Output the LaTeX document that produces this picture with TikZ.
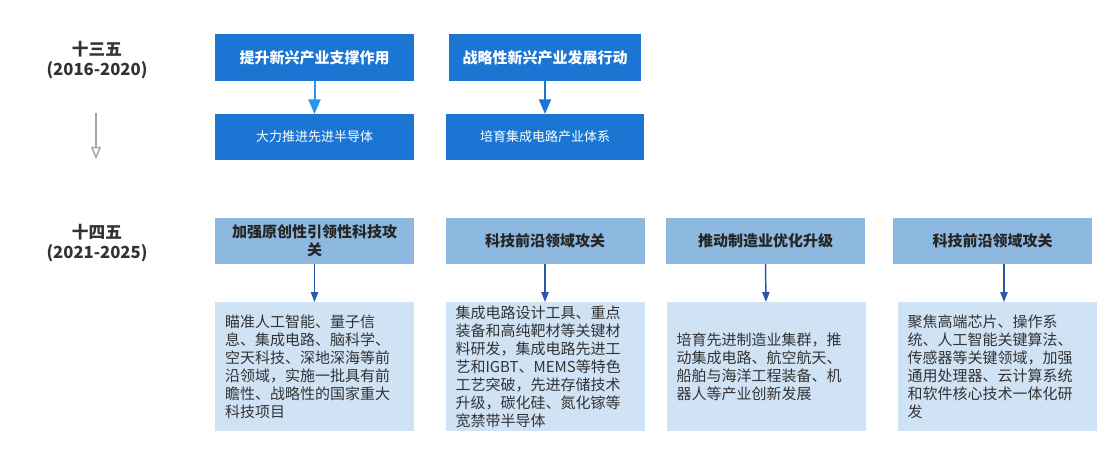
\documentclass[tikz,border=0pt]{standalone}
\usepackage{fontspec}
\setmainfont{Noto Sans CJK SC}
\usetikzlibrary{arrows.meta}

\definecolor{topblue}{HTML}{1A76D2}
\definecolor{arrlight}{HTML}{2196F3}
\definecolor{hdblue}{HTML}{8DB8E0}
\definecolor{bdblue}{HTML}{CFE3F5}
\definecolor{arrdark}{HTML}{2B57A8}
\definecolor{txtgray}{HTML}{333333}

\begin{document}
\begin{tikzpicture}[x=0.75pt, y=-0.75pt]
\tikzset{ >=Triangle, inner sep=0pt, outer sep=0pt,
  topbox/.style={fill=topblue, text=white, minimum height=35.25pt, align=center},
  hdbox/.style={fill=hdblue, text=black!85, minimum width=149.25pt, minimum height=34.5pt,
    align=center, font=\fontsize{11.25}{13.3}\selectfont\bfseries},
  bdbox/.style={fill=bdblue, text=txtgray, minimum width=149.25pt, minimum height=96.75pt,
    text width=134.25pt, align=left, font=\fontsize{11.25}{13.5}\selectfont},
  period/.style={text=txtgray, align=center, font=\fontsize{12.5}{15.5}\selectfont\bfseries},
}

\useasboundingbox (0,0) rectangle (1120,456);

%\draw [lightgray, dashed](0,0) grid [step=50pt] (1120,456);

% 十三五
\node [period] (p13) at (97,60) {十三五\\(2016-2020)};
\node [period] (p14) at (97,243) {十四五\\(2021-2025)};

\coordinate (g1) at (96,113);
\coordinate (g2) at (96,159);
\draw [-{Triangle[open, length=9pt, width=7.5pt]}, gray!70, line width=1.1pt] (g1) -- (g2);

\node [topbox, minimum width=149.25pt, font=\fontsize{11.25}{13}\selectfont\bfseries] (ta) at (314.5,57.5) {提升新兴产业支撑作用};
\node [topbox, minimum width=144pt,    font=\fontsize{11.25}{13}\selectfont\bfseries] (tb) at (545,57.5) {战略性新兴产业发展行动};
\node [topbox, minimum width=149.25pt, minimum height=34.5pt, font=\fontsize{9.75}{12}\selectfont] (ua) at (314.5,137) {大力推进先进半导体};
\node [topbox, minimum width=148.5pt,  minimum height=34.5pt, font=\fontsize{9.75}{12}\selectfont] (ub) at (545,137) {培育集成电路产业体系};

\draw [->, arrlight, line width=1.5pt, >={Triangle[length=11pt, width=9pt]}] (ta.south) -- (ua.north);
\draw [->, topblue,  line width=1.5pt, >={Triangle[length=11pt, width=9pt]}] (tb.south) -- (ub.north);

% 十四五
\node [hdbox] (ha) at (314.5,241) {加强原创性引领性科技攻\\关};
\node [hdbox] (hb) at (545,241) {科技前沿领域攻关};
\node [hdbox] (hc) at (765.5,241) {推动制造业优化升级};
\node [hdbox] (hd) at (992.5,241) {科技前沿领域攻关};

\node [bdbox] (ba) at (314.5,366.5) {瞄准人工智能、量子信\\息、集成电路、脑科学、\\空天科技、深地深海等前\\沿领域，实施一批具有前\\瞻性、战略性的国家重大\\科技项目};
\node [bdbox] (bb) at (545,366.5) {集成电路设计工具、重点\\装备和高纯靶材等关键材\\料研发，集成电路先进工\\艺和IGBT、MEMS等特色\\工艺突破，先进存储技术\\升级，碳化硅、氮化镓等\\宽禁带半导体};
\node [bdbox] (bc) at (766,366.5) {培育先进制造业集群，推\\动集成电路、航空航天、\\船舶与海洋工程装备、机\\器人等产业创新发展};
\node [bdbox] (bd) at (997,366.5) {聚焦高端芯片、操作系\\统、人工智能关键算法、\\传感器等关键领域，加强\\通用处理器、云计算系统\\和软件核心技术一体化研\\发};

\draw [->, arrdark, line width=1.1pt, >={Triangle[length=7.5pt, width=5.5pt]}] (ha.south) -- (ba.north);
\draw [->, arrdark, line width=1.1pt, >={Triangle[length=7.5pt, width=5.5pt]}] (hb.south) -- (bb.north);
\draw [->, arrdark, line width=1.1pt, >={Triangle[length=7.5pt, width=5.5pt]}] (hc.south) -- (bc.north);
\draw [->, arrdark, line width=1.1pt, >={Triangle[length=7.5pt, width=5.5pt]}] ([xshift=8.6pt]hd.south) -- ([xshift=8.6pt]hd.south |- bd.north);

\end{tikzpicture}
\end{document}
